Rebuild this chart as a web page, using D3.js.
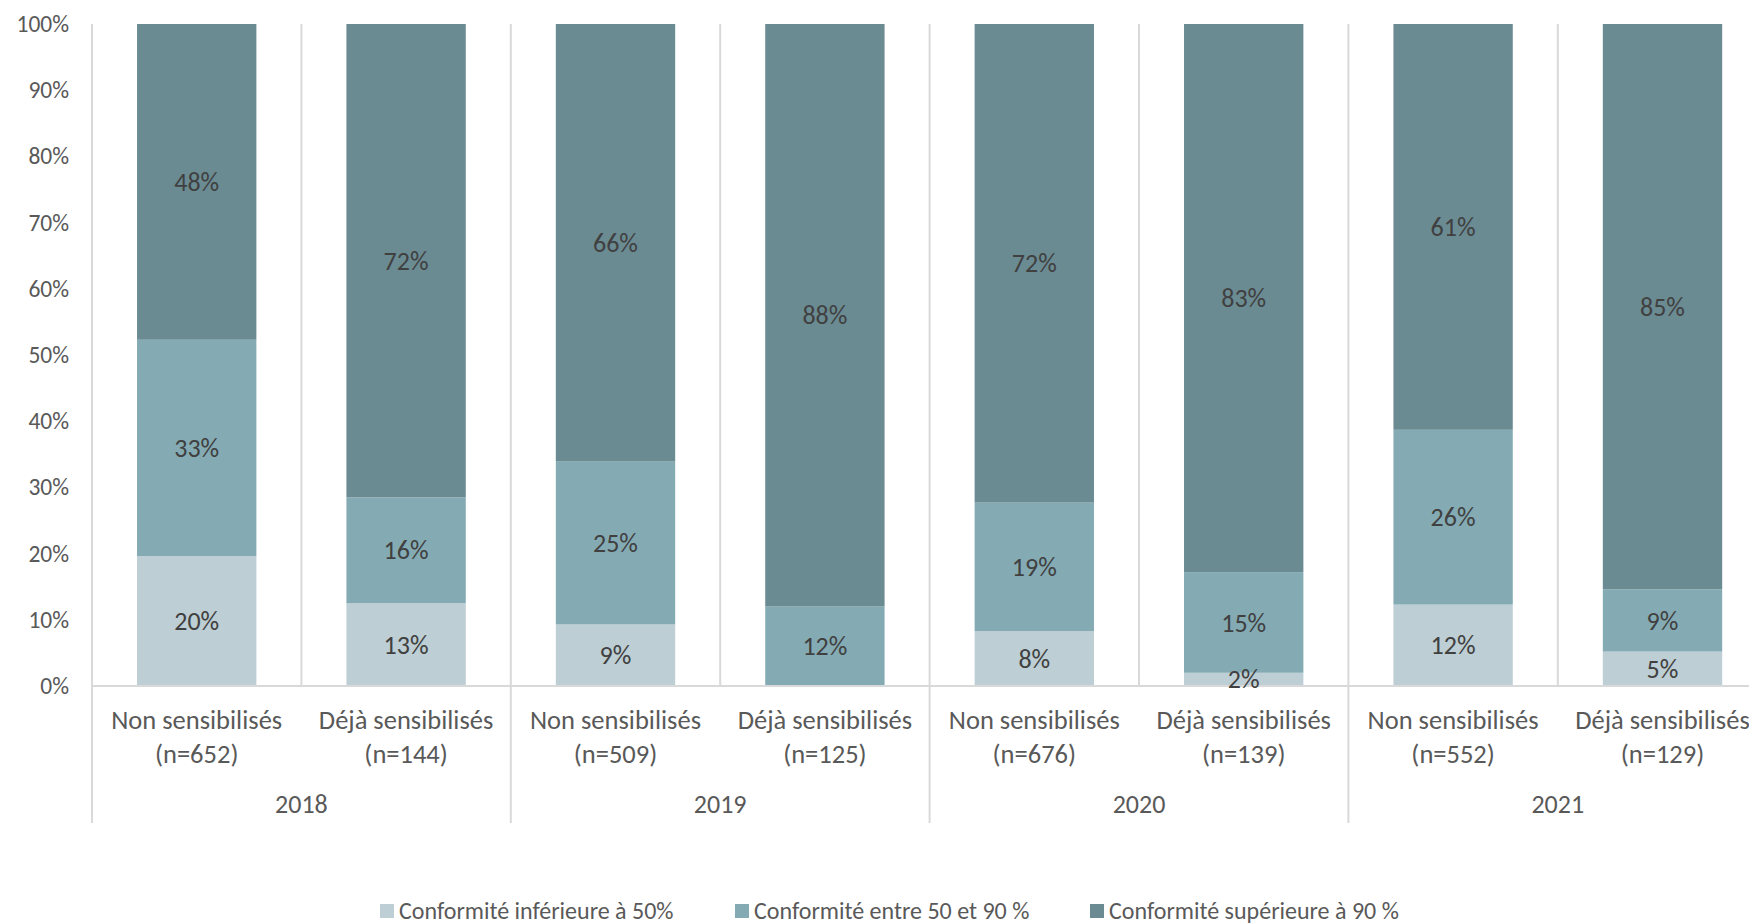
<!DOCTYPE html>
<html>
<head>
<meta charset="utf-8">
<script src="https://cdn.jsdelivr.net/npm/d3@7"></script>
<style>
  html, body { margin: 0; padding: 0; background: #fff; }
  svg { display: block; font-family: Carlito, Calibri, Lato, sans-serif; }
</style>
</head>
<body>
<svg id="chart" width="1749" height="924"></svg>
<script>
// ---- data ----
const years = ["2018", "2019", "2020", "2021"];
const groups = ["Non sensibilisés", "Déjà sensibilisés"];
const counts = ["(n=652)", "(n=144)", "(n=509)", "(n=125)", "(n=676)", "(n=139)", "(n=552)", "(n=129)"];
const seriesNames = ["Conformité inférieure à 50%", "Conformité entre 50 et 90 %", "Conformité supérieure à 90 %"];
const below50 = [19.6, 12.5, 9.3, 0, 8.3, 2.0, 12.3, 5.2];
const between50and90 = [32.7, 16.0, 24.6, 12.0, 19.4, 15.2, 26.4, 9.4];
const above90 = [47.7, 71.5, 66.1, 88.0, 72.3, 82.8, 61.3, 85.4];
const yTicks = [0, 10, 20, 30, 40, 50, 60, 70, 80, 90, 100];
const colors = ["#BDCED4", "#84ABB4", "#6B8B93"];

// ---- layout ----
const svg = d3.select("#chart");
const plotLeft = 92, plotTop = 24, plotBottom = 686;
const step = 209.4;
const plotRight = plotLeft + step * 8;

const cats = [];
years.forEach((yr, yi) => groups.forEach((gr, gi) => cats.push({ key: yr + "|" + gr, year: yr, group: gr, idx: yi * 2 + gi })));
const x = d3.scaleBand().domain(cats.map(c => c.key)).range([plotLeft, plotRight]).paddingInner(0.43).paddingOuter(0.215);
const xYear = d3.scaleBand().domain(years).range([plotLeft, plotRight]);
const y = d3.scaleLinear().domain([0, 100]).range([plotBottom, plotTop]);

const table = cats.map((c, i) => ({ key: c.key, s0: below50[i], s1: between50and90[i], s2: above90[i] }));
const stacked = d3.stack().keys(["s0", "s1", "s2"])(table);

const gridColor = "#D9D9D9";

// vertical dividers between categories (plot area)
const gg = svg.append("g");
d3.range(9).forEach(i => {
  const xx = plotLeft + i * step;
  gg.append("line").attr("x1", xx).attr("x2", xx).attr("y1", y(100)).attr("y2", y(0))
    .attr("stroke", gridColor).attr("stroke-width", 2);
});
// year dividers extending below axis
d3.range(5).forEach(i => {
  const xx = plotLeft + i * xYear.step();
  gg.append("line").attr("x1", xx).attr("x2", xx).attr("y1", y(0)).attr("y2", 823)
    .attr("stroke", gridColor).attr("stroke-width", 2);
});

// bars
stacked.forEach((layer, li) => {
  svg.append("g").selectAll("rect").data(layer).enter().append("rect")
    .attr("x", d => x(d.data.key))
    .attr("width", x.bandwidth())
    .attr("y", d => y(d[1]))
    .attr("height", d => y(d[0]) - y(d[1]))
    .attr("fill", colors[li]);
});

// x axis line
svg.append("line").attr("x1", plotLeft).attr("x2", plotRight).attr("y1", y(0)).attr("y2", y(0))
  .attr("stroke", gridColor).attr("stroke-width", 2);

// data labels
stacked.forEach((layer, li) => {
  svg.append("g").selectAll("text").data(layer.filter(d => d[1] - d[0] > 0)).enter().append("text")
    .attr("x", d => x(d.data.key) + x.bandwidth() / 2)
    .attr("y", d => y((d[0] + d[1]) / 2))
    .attr("dy", "0.35em")
    .attr("text-anchor", "middle")
    .attr("font-size", 26)
    .attr("fill", "#404040")
    .text(d => Math.round(d[1] - d[0]) + "%");
});

// y axis
const yAxis = d3.axisLeft(y).tickValues(yTicks).tickSize(0).tickPadding(0).tickFormat(d => d + "%");
const ya = svg.append("g").attr("transform", "translate(69,0)").call(yAxis);
ya.select(".domain").remove();
ya.selectAll("text").attr("font-size", 23.5).attr("fill", "#595959").attr("font-family", "Carlito, Calibri, Lato, sans-serif");

// category labels
const xa = svg.append("g");
cats.forEach((c, i) => {
  const cx = x(c.key) + x.bandwidth() / 2;
  const t = xa.append("text").attr("x", cx).attr("text-anchor", "middle")
    .attr("font-size", 26.5).attr("fill", "#595959");
  t.append("tspan").attr("x", cx).attr("y", 720).attr("dy", "0.35em").text(c.group);
  t.append("tspan").attr("x", cx).attr("y", 754).attr("dy", "0.35em").text(counts[i]);
});
// year labels
years.forEach(yr => {
  xa.append("text").attr("x", xYear(yr) + xYear.bandwidth() / 2).attr("y", 804).attr("dy", "0.35em")
    .attr("text-anchor", "middle").attr("font-size", 26).attr("fill", "#595959").text(yr);
});

// legend
const legX = [380, 735, 1090];
const leg = svg.append("g");
seriesNames.forEach((n, i) => {
  leg.append("rect").attr("x", legX[i]).attr("y", 904).attr("width", 14).attr("height", 14).attr("fill", colors[i]);
  leg.append("text").attr("x", legX[i] + 19).attr("y", 911).attr("dy", "0.35em")
    .attr("font-size", 24).attr("fill", "#595959").text(n);
});
</script>
</body>
</html>
